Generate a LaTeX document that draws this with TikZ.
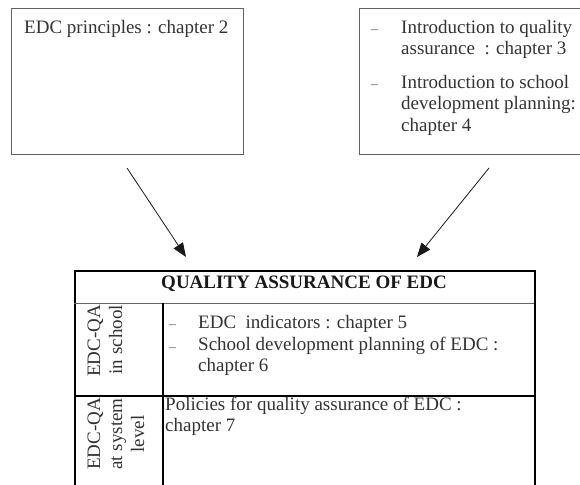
\documentclass[tikz,border=0pt]{standalone}
\usepackage{fontspec}
\setmainfont{Liberation Serif}
\usetikzlibrary{arrows.meta}
\tikzset{
  x=1pt, y=-1pt,
  topbox/.style={draw=black!62, line width=1.3pt, inner sep=0pt, anchor=north west},
  tablebox/.style={draw=black, line width=1.6pt, inner sep=0pt, anchor=north west},
  txt/.style={inner sep=0pt, anchor=north west, align=left, text=black!80,
    font=\fontsize{19}{21.5}\selectfont},
  dashmark/.style={inner sep=0pt, anchor=north west, text=black!60,
    font=\fontsize{14}{21.5}\selectfont},
  vtxt/.style={inner sep=0pt, rotate=90, anchor=east, text=black!80,
    font=\fontsize{19}{22}\selectfont},
  arr/.style={draw=black!90, line width=0.8pt, -{Triangle[length=14pt,width=11pt]}},
}
\begin{document}
\begin{tikzpicture}
\useasboundingbox (0,0) rectangle (580,484);
\clip (0,0) rectangle (580,484);
% top left box
\node[topbox, minimum width=232pt, minimum height=146pt] (lbox) at (11,8) {};
\node[txt] (ltext) at (24,18) {\strut EDC principles : chapter 2};
% top right box
\node[topbox, minimum width=240pt, minimum height=146pt] (rbox) at (359,8) {};
\node[dashmark] (rd1) at (371,18) {\strut –};
\node[txt] (rt1) at (401,18) {\strut Introduction to quality\\assurance\ \ : chapter 3};
\node[dashmark] (rd2) at (371,73) {\strut –};
\node[txt] (rt2) at (401,73) {\strut Introduction to school\\development planning:\\chapter 4};
% table
\node[tablebox, minimum width=460pt, minimum height=240pt] (tbl) at (74,270) {};
\coordinate (hl) at (74,303);
\coordinate (hr) at (534,303);
\coordinate (rl) at (74,396);
\coordinate (rr) at (534,396);
\coordinate (ct) at (163,303);
\coordinate (cb) at (163,520);
\draw[draw=black!60, line width=1pt] (hl) -- (hr);
\draw[line width=1.3pt] (rl) -- (rr);
\draw[line width=1.6pt] (ct) -- (cb);
\node[inner sep=0pt, anchor=base, text=black!90, font=\fontsize{19}{21.5}\selectfont\bfseries] (head) at (304,288) {QUALITY ASSURANCE OF EDC};
\node[vtxt, align=right] (c1) at (105,305) {EDC-QA\\in school};
\node[vtxt, align=center] (c2) at (116,398) {EDC-QA\\at system\\level};
\node[dashmark] (td1) at (169,313) {\strut –};
\node[txt] (tt1) at (198,313) {\strut EDC\ \ indicators : chapter 5};
\node[dashmark] (td2) at (169,336) {\strut –};
\node[txt, font=\fontsize{19}{20.5}\selectfont] (tt2) at (198,336) {\strut School development planning of EDC :\\chapter 6};
\node[txt] (tt3) at (165,395) {\strut Policies for quality assurance of EDC :\\chapter 7};
% arrows
\coordinate (a1s) at (127,168);
\coordinate (a1e) at (186,257);
\coordinate (a2s) at (489,168);
\coordinate (a2e) at (417,257);
\draw[arr] (a1s) -- (a1e);
\draw[arr] (a2s) -- (a2e);
\end{tikzpicture}
\end{document}
